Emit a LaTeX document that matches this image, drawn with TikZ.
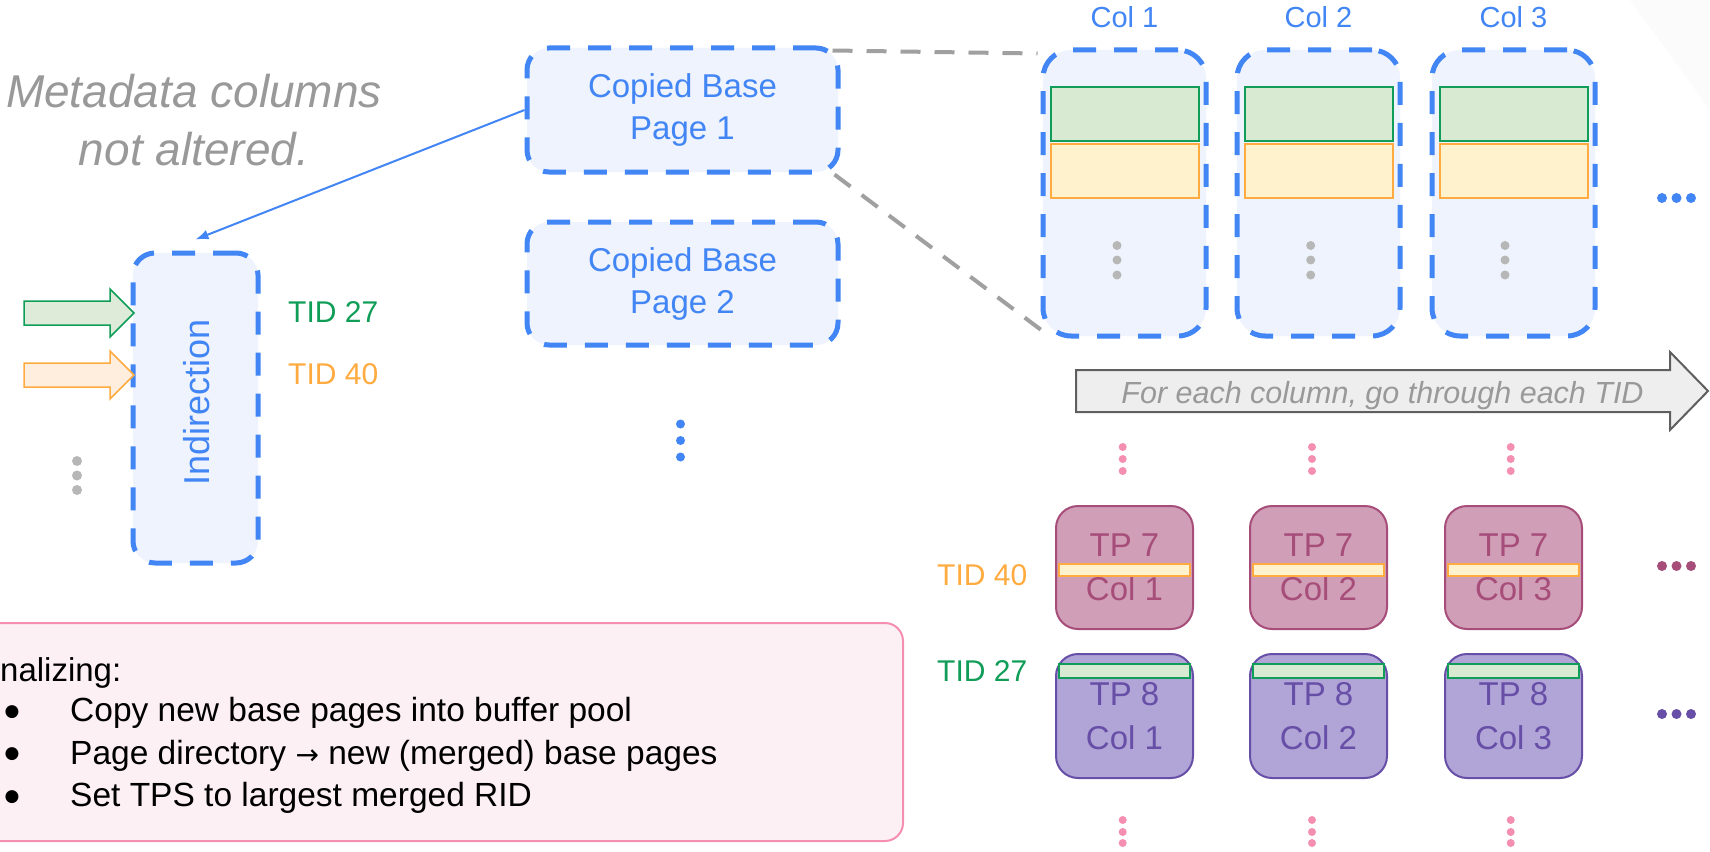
\documentclass[tikz,border=0pt]{standalone}
\usepackage{fontspec}
\setmainfont{Liberation Sans}
\newfontfamily\symfont{DejaVu Sans}
\usetikzlibrary{calc,arrows.meta}
\definecolor{gblue}{HTML}{4285F4}
\definecolor{lblue}{HTML}{EEF3FD}
\definecolor{metagray}{HTML}{999999}
\definecolor{dashgray}{HTML}{A0A0A0}
\definecolor{dotgray}{HTML}{B7B7B7}
\definecolor{ggreen}{HTML}{0F9D58}
\definecolor{gfill}{HTML}{D9EAD3}
\definecolor{garrfill}{HTML}{DDEBD8}
\definecolor{gorange}{HTML}{FFAB40}
\definecolor{ofill}{HTML}{FFF2CC}
\definecolor{oarrfill}{HTML}{FFEEDD}
\definecolor{magstroke}{HTML}{A64D79}
\definecolor{magfill}{HTML}{D09EB6}
\definecolor{purstroke}{HTML}{674EA7}
\definecolor{purfill}{HTML}{B1A5D7}
\definecolor{pinkdot}{HTML}{F48FB1}
\definecolor{pinkfill}{HTML}{FDF0F5}
\definecolor{arrfill}{HTML}{EEEEEE}
\definecolor{arrstroke}{HTML}{5F5F5F}
\definecolor{bgtri}{HTML}{FBFBFB}
\newcommand{\myfs}[2]{\fontsize{#1}{#2}\selectfont}
\begin{document}
\begin{tikzpicture}[x=1pt,y=-1pt,
  dbox/.style={rectangle, draw=gblue, line width=5pt, dash pattern=on 23pt off 18pt,
    fill=lblue, rounded corners=22pt, inner sep=0pt},
  stripbox/.style={rectangle, line width=2pt, inner sep=0pt},
  tpbox/.style={rectangle, rounded corners=22pt, line width=2pt, align=center,
    inner sep=0pt, minimum width=137pt, font=\myfs{33}{44}},
  lbl/.style={inner sep=0pt},
  bul/.style={inner sep=0pt, font=\symfont\myfs{17}{17}},
  gdash/.style={draw=dashgray, line width=4pt, dash pattern=on 20pt off 14pt},
]
\useasboundingbox (0,0) rectangle (1710,851);
\clip (0,0) rectangle (1710,851);
\fill[bgtri] (1630,0) -- (1710,0) -- (1710,110) -- cycle;

% metadata note
\node[lbl, align=center, text=metagray, font=\myfs{46}{58}\itshape] (meta) at (194,120)
  {Metadata columns\\not altered.};

% copied base pages
\node[dbox, minimum width=311pt, minimum height=124pt, text=gblue, align=center,
  font=\myfs{33}{42}] (cb1) at (682.5,110) {Copied Base\\Page 1};
\node[dbox, minimum width=311pt, minimum height=123pt, text=gblue, align=center,
  font=\myfs{33}{42}] (cb2) at (682.5,283.5) {Copied Base\\Page 2};
\foreach \y in {424,440.5,457} \fill[gblue] (680.5,\y) circle (4.5pt);

% indirection
\node[dbox, minimum width=125pt, minimum height=310pt] (ind) at (195.5,408) {};
\node[lbl, rotate=90, text=gblue, font=\myfs{36}{36}] (indtxt) at (197,402.5) {Indirection};

\draw[fill=garrfill, draw=ggreen, line width=1.5pt, line join=miter]
  (24,301) -- (110,301) -- (110,289) -- (134,313) -- (110,337) -- (110,325) -- (24,325) -- cycle;
\draw[fill=oarrfill, draw=gorange, line width=1.5pt, line join=miter]
  (24,363) -- (110,363) -- (110,351) -- (134,375) -- (110,399) -- (110,387) -- (24,387) -- cycle;
\node[lbl, anchor=base west, text=ggreen, font=\myfs{30}{30}] (tid27a) at (288,322) {TID 27};
\node[lbl, anchor=base west, text=gorange, font=\myfs{30}{30}] (tid40a) at (288,384) {TID 40};
\foreach \y in {461,475.5,490} \fill[dotgray] (77,\y) circle (5pt);

\draw[gblue, line width=2pt, -{Latex[length=13pt,width=10pt]}] (cb1.west) -- ([yshift=11pt]ind.north);

% columns
\foreach \i/\x/\gx/\px in {1/1124.5/1117/1122.7, 2/1318.5/1310.7/1312, 3/1513.5/1505/1510.7} {
  \node[lbl, text=gblue, font=\myfs{29}{29}] (clab\i) at (\x,17.5) {Col \i};
  \node[dbox, rounded corners=28pt, minimum width=163pt, minimum height=286pt] (col\i) at (\x,193) {};
  \node[stripbox, draw=ggreen, fill=gfill, minimum width=148pt, minimum height=54pt] (cg\i) at (\x,114) {};
  \node[stripbox, draw=gorange, fill=ofill, minimum width=148pt, minimum height=54pt] (co\i) at (\x,171) {};
  \foreach \y in {245.5,260,275} \fill[dotgray] (\gx,\y) circle (4.5pt);
  \foreach \y in {447,459,471,820,832,843} \fill[pinkdot] (\px,\y) circle (4pt);
  \node[tpbox, draw=magstroke, fill=magfill, text=magstroke, minimum height=123pt] (tpa\i) at (\x,567.5) {TP 7\\Col \i};
  \node[stripbox, draw=gorange, fill=ofill, minimum width=131pt, minimum height=12pt] (tpas\i) at (\x,570) {};
  \node[tpbox, draw=purstroke, fill=purfill, text=purstroke, minimum height=124pt] (tpb\i) at (\x,716) {TP 8\\Col \i};
  \node[stripbox, draw=ggreen, fill=gfill, minimum width=131pt, minimum height=14pt] (tpbs\i) at (\x,671) {};
}

% zoom lines
\draw[gdash] ([xshift=-8pt,yshift=-5pt]cb1.north east) -- ([xshift=-3pt,yshift=-6pt]col1.north west);
\draw[gdash] ([xshift=-6pt]cb1.south east) -- ([xshift=4pt,yshift=6pt]col1.south west);

% horizontal ellipses
\foreach \x in {1662,1676.5,1691} {
  \fill[gblue] (\x,198) circle (5pt);
  \fill[magstroke] (\x,566) circle (5pt);
  \fill[purstroke] (\x,714) circle (5pt);
}

% big arrow
\draw[fill=arrfill, draw=arrstroke, line width=2pt, line join=miter]
  (1076,370) -- (1670,370) -- (1670,352) -- (1708,391) -- (1670,430) -- (1670,412) -- (1076,412) -- cycle;
\node[lbl, anchor=base, text=metagray, font=\myfs{30.5}{30.5}\itshape] (arrtxt) at (1382.5,403)
  {For each column, go through each TID};

\node[lbl, anchor=base west, text=gorange, font=\myfs{30}{30}] (tid40b) at (937,585) {TID 40};
\node[lbl, anchor=base west, text=ggreen, font=\myfs{30}{30}] (tid27b) at (937,681) {TID 27};

% finalizing box
\node[rectangle, draw=pinkdot, fill=pinkfill, line width=2pt, rounded corners=18pt,
  minimum width=943pt, minimum height=218pt, inner sep=0pt] (finbox) at (431.5,732) {};
\node[lbl, anchor=base west, font=\myfs{33}{33}] (fin) at (0,681) {nalizing:};
\node[bul] (bul1) at (12,712) {●};
\node[bul] (bul2) at (12,754.5) {●};
\node[bul] (bul3) at (12,797) {●};
\node[lbl, anchor=base west, font=\myfs{33.5}{33.5}] (it1) at (70,721.7) {Copy new base pages into buffer pool};
\node[lbl, anchor=base west, font=\myfs{33.5}{33.5}] (it2) at (70,764.3) {Page directory {\symfont\myfs{28}{28}→} new (merged) base pages};
\node[lbl, anchor=base west, font=\myfs{33.5}{33.5}] (it3) at (70,806.7) {Set TPS to largest merged RID};
\end{tikzpicture}
\end{document}
